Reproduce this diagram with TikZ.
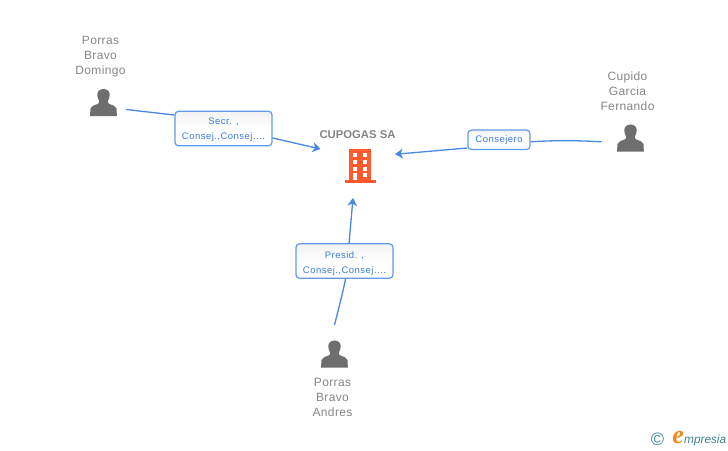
\documentclass[tikz,border=0pt]{standalone}
\usepackage{fontspec}
\usetikzlibrary{arrows.meta}
\setmainfont{Liberation Sans}
\newfontfamily\rolefont[LetterSpace=5]{Liberation Sans}
\newfontfamily\namefont[LetterSpace=3]{Liberation Sans}
\newfontfamily\brandfont{Liberation Sans}
\newfontfamily\brandefont{Liberation Serif}
\definecolor{linkblue}{HTML}{4A88E2}
\definecolor{roleblue}{HTML}{3B7DE0}
\definecolor{boxblue}{HTML}{619AEA}
\definecolor{nametext}{HTML}{858585}
\definecolor{persongrey}{HTML}{6E6E6E}
\definecolor{buildingred}{HTML}{FF5B2E}
\definecolor{brandteal}{HTML}{3F8296}
\definecolor{brandorange}{HTML}{F28A1E}
\tikzset{
  person/.style={minimum size=27,inner sep=0pt,path picture={
    \fill[persongrey,shift={(path picture bounding box.center)}]
      (0.2,13.5) .. controls (-4.2,13.5) and (-6.2,10.5) .. (-6,7.2)
      .. controls (-5.9,4.6) and (-5,2.8) .. (-4,1.6)
      .. controls (-3.9,0) and (-4.2,-0.8) .. (-6,-1.6)
      .. controls (-9,-2.8) and (-12,-3.2) .. (-12.8,-6)
      -- (-13.3,-13.5) -- (13.6,-13.5) -- (13.2,-6)
      .. controls (12.4,-3.2) and (9.4,-2.8) .. (6.4,-1.6)
      .. controls (4.6,-0.8) and (4.3,0) .. (4.4,1.6)
      .. controls (5.4,2.8) and (6.3,4.6) .. (6.4,7.2)
      .. controls (6.6,10.5) and (4.6,13.5) .. (0.2,13.5) -- cycle;}},
  personname/.style={align=center,text=nametext,inner sep=0pt,
    font=\namefont\fontsize{12}{15}\selectfont},
  rolebox/.style={draw=boxblue,line width=1.2pt,rounded corners=3.5,inner sep=0pt,
    top color=black!5,bottom color=white,middle color=white,text=roleblue,align=center,
    font=\rolefont\fontsize{9.5}{15}\selectfont},
  link/.style={draw=linkblue,line width=1.3pt},
  tolink/.style={link,-{Stealth[length=8,width=10,inset=2.5]}}
}
\begin{document}
\begin{tikzpicture}[x=1pt,y=1pt]
\useasboundingbox (0,0) rectangle (728,-450);
% people
\node (domingo) [person] at (103.3,-102.5) {};
\node (fernando) [person] at (630.3,-138) {};
\node (andres) [person] at (334.3,-354) {};
\node (domingoname) [personname] at (100.5,-56.5) {Porras\\Bravo\\Domingo};
\node (fernandoname) [personname] at (627.5,-91) {Cupido\\Garcia\\Fernando};
\node (andresname) [personname] at (332.5,-397) {Porras\\Bravo\\Andres};
% company
\node (cupogas) [text=nametext,inner sep=0pt,font=\bfseries\fontsize{11.3}{15}\selectfont] at (357.5,-135) {CUPOGAS SA};
\fill[buildingred] (349,-149) rectangle (371,-180);
\fill[buildingred] (344.5,-180) rectangle (375.7,-183.3);
\foreach \x in {352.9,362.5} {
  \foreach \y in {152.9,159.8,166.5} {
    \fill[white] (\x,-\y) rectangle ++(4.4,-4.2);
  }
}
\fill[white] (352.9,-172.9) rectangle (357.3,-180);
\fill[white] (362.5,-172.9) rectangle (366.9,-177.1);
% labels
\node (secr) [rolebox,minimum width=97,minimum height=34.5] at (223.5,-128.5) {\rule{0pt}{9pt}Secr. ,\\Consej.,Consej....};
\node (consejero) [rolebox,minimum width=62,minimum height=19.5] at (499,-139.8) {Consejero};
\node (presid) [rolebox,minimum width=97,minimum height=34.5] at (344.5,-261) {\rule{0pt}{11pt}Presid. ,\\Consej.,Consej....};
% ends of the lines
\coordinate (domingoout) at (126,-109.5);
\coordinate (fernandoout) at (601.5,-141.8);
\coordinate (andresout) at (334.5,-325);
\coordinate (cupogasleft) at (320.5,-149);
\coordinate (cupogasright) at (395,-154.3);
\coordinate (cupogasdown) at (353,-198);
% lines
\draw[link] (domingoout) -- (secr.west |- 0,-115);
\draw[tolink] (secr.east |- 0,-138) -- (cupogasleft);
\draw[link] (fernandoout) .. controls (575,-140.3) and (555,-140.3) .. (consejero.east |- 0,-141.8);
\draw[tolink] (consejero.west |- 0,-148) -- (cupogasright);
\draw[link] (andresout) .. controls (339,-307) and (343,-292) .. (345.7,-278.3);
\draw[tolink] (349,-243.7) -- (cupogasdown);
% logo
\node (copyright) [text=brandteal,inner sep=0pt,font=\fontsize{18}{18}\selectfont] at (657.5,-439) {©};
\node (brand) [text=brandteal,inner sep=0pt,anchor=base west,font=\brandfont\itshape\fontsize{11.8}{14}\selectfont] at (684,-443) {mpresia};
\node (brande) [text=brandorange,inner sep=0pt,anchor=base east,font=\brandefont\bfseries\itshape\fontsize{26}{26}\selectfont] at (684,-443) {e};
\end{tikzpicture}
\end{document}
